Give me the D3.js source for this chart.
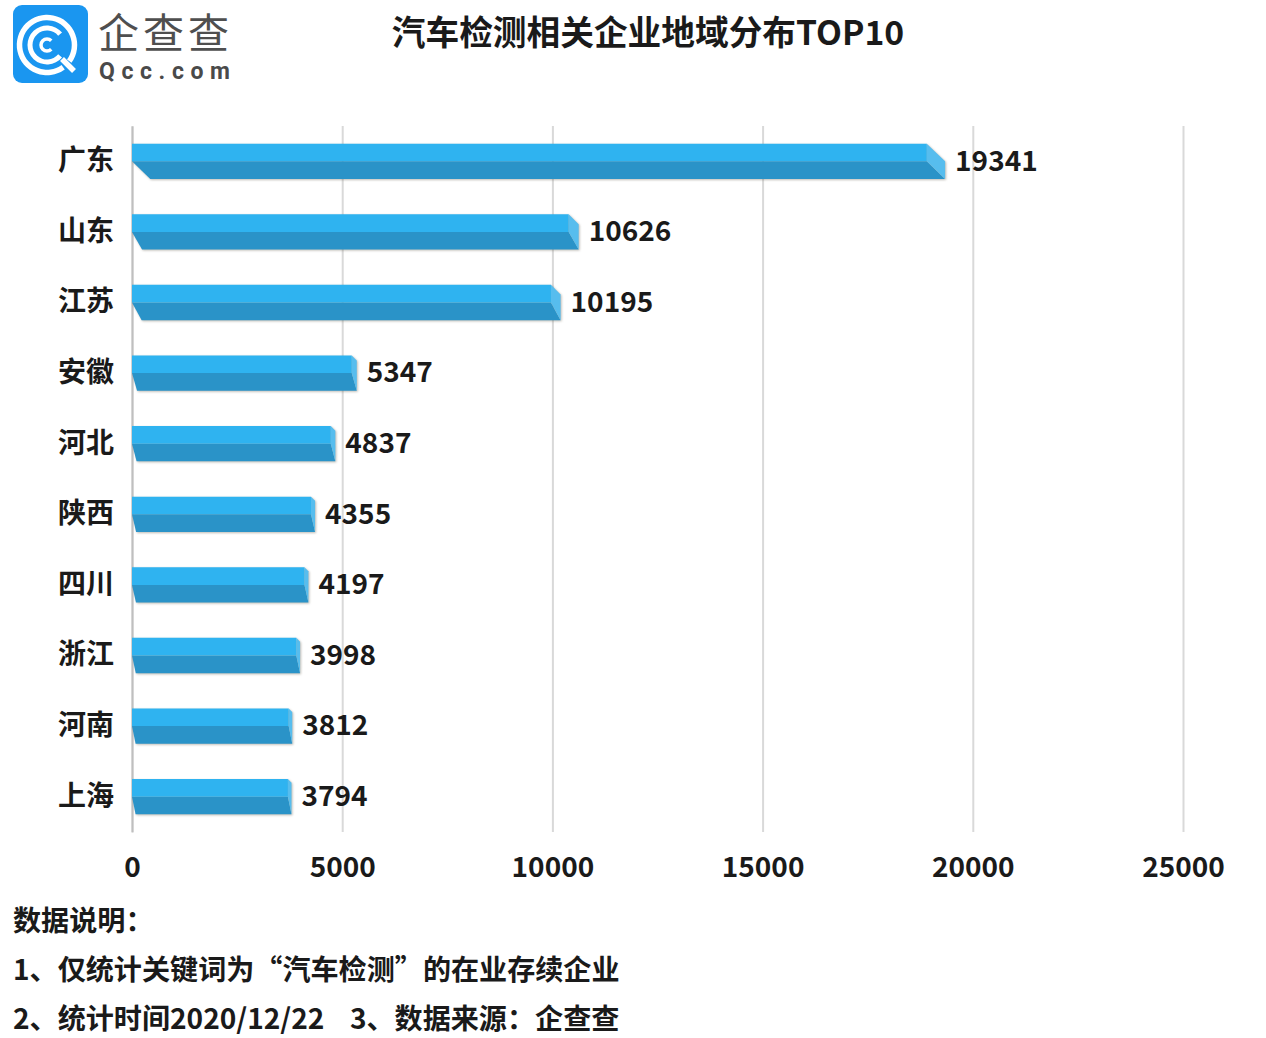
<!DOCTYPE html>
<html>
<head>
<meta charset="utf-8">
<script src="https://cdn.jsdelivr.net/npm/d3@7"></script>
<style>
  body { margin: 0; background: #fff; }
  text { font-family: "Noto Sans CJK SC", "Noto Sans", sans-serif; fill: #1a1a1a; }
</style>
</head>
<body>
<svg id="chart" width="1266" height="1038"></svg>
<script>
const provinces = ['广东', '山东', '江苏', '安徽', '河北', '陕西', '四川', '浙江', '河南', '上海']
const counts = [19341, 10626, 10195, 5347, 4837, 4355, 4197, 3998, 3812, 3794]
const xTicks = [0, 5000, 10000, 15000, 20000, 25000]
const notes = ['数据说明：', '1、仅统计关键词为“汽车检测”的在业存续企业', '2、统计时间2020/12/22\u00a0\u00a0\u00a0\u00a03、数据来源：企查查']

const svg = d3.select('#chart')

const x = d3.scaleLinear().domain([0, 25000]).range([132, 1183])
const y = d3.scaleBand().domain(provinces).range([126, 832]).paddingInner(0.5).paddingOuter(0.25)

// gridlines + bottom axis
const xAxis = svg.append('g')
  .attr('transform', 'translate(0,832)')
  .call(d3.axisBottom(x).tickValues(xTicks).tickFormat(d3.format('d')).tickSize(-706).tickPadding(25))
xAxis.select('.domain').remove()
xAxis.selectAll('line').attr('stroke', '#d9d9d9').attr('stroke-width', 2)
xAxis.selectAll('text').attr('font-size', 28).attr('font-weight', 700).style('font-family', null)

// category axis
const yAxis = svg.append('g')
  .attr('transform', 'translate(132,0)')
  .call(d3.axisLeft(y).tickSize(0).tickPadding(18))
yAxis.select('.domain').attr('stroke', '#bfbfbf').attr('stroke-width', 2)
yAxis.selectAll('text').attr('font-size', 28).attr('font-weight', 700).style('font-family', null)

// the bevel gets deeper as the bar gets longer
const depth = d => (x(d) - x(0)) * 0.0225

const bars = svg.append('g').selectAll('g')
  .data(provinces.map((name, i) => ({ name, value: counts[i] })))
  .join('g')
  .style('filter', 'drop-shadow(1px 1px 1px rgba(70,60,40,0.35))')

const poly = pts => d3.line()(pts) + 'Z'

// bottom face
bars.append('path')
  .attr('fill', '#2a93c8')
  .attr('d', d => {
    const t = y(d.name), b = t + y.bandwidth(), m = t + y.bandwidth() / 2, e = depth(d.value)
    return poly([[x(0), m], [x(d.value) - e, m], [x(d.value), b], [x(0) + e, b]])
  })

// end cap
bars.append('path')
  .attr('fill', '#57bdee')
  .attr('d', d => {
    const t = y(d.name), b = t + y.bandwidth(), m = t + y.bandwidth() / 2, e = depth(d.value)
    return poly([[x(d.value) - e, t], [x(d.value), t + Math.min(e, y.bandwidth() / 2)], [x(d.value), b], [x(d.value) - e, m]])
  })

// top face
bars.append('path')
  .attr('fill', '#2fb3f0')
  .attr('d', d => {
    const t = y(d.name), m = t + y.bandwidth() / 2, e = depth(d.value)
    return poly([[x(0), t], [x(d.value) - e, t], [x(d.value) - e, m], [x(0), m]])
  })

// value labels
svg.append('g').selectAll('text')
  .data(counts)
  .join('text')
  .attr('x', d => x(d) + 10)
  .attr('y', (d, i) => y(provinces[i]) + y.bandwidth() / 2)
  .attr('dy', '0.33em')
  .attr('font-size', 28)
  .attr('font-weight', 700)
  .text(d => d)

// title
svg.append('text')
  .attr('x', 648).attr('y', 45)
  .attr('text-anchor', 'middle')
  .attr('font-size', 33.7)
  .attr('font-weight', 700)
  .text('汽车检测相关企业地域分布TOP10')

// notes under the chart
svg.append('g').selectAll('text')
  .data(notes)
  .join('text')
  .attr('x', 13)
  .attr('y', (d, i) => 931 + i * 49)
  .attr('font-size', 28.1)
  .attr('font-weight', 700)
  .text(d => d)

// logo
const logo = svg.append('g')
logo.append('rect').attr('x', 13).attr('y', 5).attr('width', 75).attr('height', 78).attr('rx', 9).attr('fill', '#1a96f0')
const arc = d3.arc()
// radius, thickness, start and end angle (in units of pi)
const rings = [[27.5, 5.5, 0.8, 2.7], [17, 5, 0.72, 2.28], [6, 3.5, 0.75, 2.25]]
rings.forEach(r => {
  logo.append('path')
    .attr('transform', 'translate(47,45)')
    .attr('fill', '#fff')
    .attr('d', arc({
      innerRadius: r[0] - r[1] / 2,
      outerRadius: r[0] + r[1] / 2,
      startAngle: Math.PI * r[2],
      endAngle: Math.PI * r[3]
    }))
})
logo.append('path').attr('d', 'M62 59L74 71').attr('stroke', '#fff').attr('stroke-width', 5.5).attr('fill', 'none')
logo.append('text')
  .attr('x', 98).attr('y', 48)
  .attr('font-size', 41).attr('font-weight', 400).attr('letter-spacing', 4)
  .style('fill', '#4f4f4f')
  .text('企查查')
logo.append('text')
  .attr('x', 99).attr('y', 79)
  .attr('font-size', 23).attr('font-weight', 700).attr('letter-spacing', 6.6)
  .style('font-family', 'Roboto')
  .style('fill', '#4a4a4a')
  .text('Qcc.com')
</script>
</body>
</html>
